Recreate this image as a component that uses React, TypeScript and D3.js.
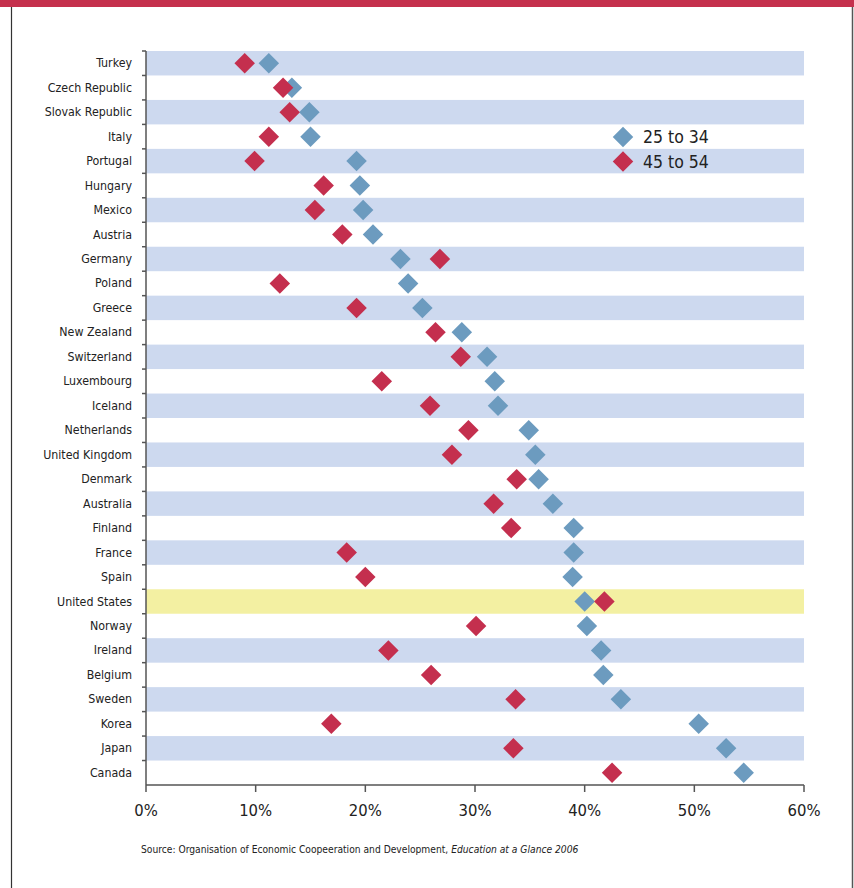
import React from "react";
import * as d3 from "d3";

const countries = [
  "Turkey", "Czech Republic", "Slovak Republic", "Italy", "Portugal", "Hungary",
  "Mexico", "Austria", "Germany", "Poland", "Greece", "New Zealand", "Switzerland",
  "Luxembourg", "Iceland", "Netherlands", "United Kingdom", "Denmark", "Australia",
  "Finland", "France", "Spain", "United States", "Norway", "Ireland", "Belgium",
  "Sweden", "Korea", "Japan", "Canada",
];
const age25to34 = [
  11.2, 13.3, 14.9, 15.0, 19.2, 19.5, 19.8, 20.7, 23.2, 23.9, 25.2, 28.8, 31.1,
  31.8, 32.1, 34.9, 35.5, 35.8, 37.1, 39.0, 39.0, 38.9, 40.0, 40.2, 41.5, 41.7,
  43.3, 50.4, 52.9, 54.5,
];
const age45to54 = [
  9.0, 12.5, 13.1, 11.2, 9.9, 16.2, 15.4, 17.9, 26.8, 12.2, 19.2, 26.4, 28.7,
  21.5, 25.9, 29.4, 27.9, 33.8, 31.7, 33.3, 18.3, 20.0, 41.8, 30.1, 22.1, 26.0,
  33.7, 16.9, 33.5, 42.5,
];
const seriesNames = ["25 to 34", "45 to 54"];
const xTicks = [0, 10, 20, 30, 40, 50, 60];
const highlight = "United States";

const W = 854;
const H = 888;
const M = { left: 146, right: 804, top: 51, bottom: 785 };
const BLUE = "#6c9bbf";
const RED = "#c42f4e";
const BAND = "#cdd9ef";
const YELLOW = "#f3f0a2";
const AXIS = "#555555";
const FONT = "'Liberation Sans Narrow', 'Arial Narrow', 'DejaVu Sans Condensed', 'Roboto', sans-serif";

export default function App() {
  const x = d3.scaleLinear().domain([0, 60]).range([M.left, M.right]);
  const y = d3.scaleBand<string>().domain(countries).range([M.top, M.bottom]).padding(0);
  const bw = y.bandwidth();
  const diamond = d3.symbol().type(d3.symbolSquare).size(14.5 * 14.5)();

  const series = [
    { name: seriesNames[0], values: age25to34, color: BLUE },
    { name: seriesNames[1], values: age45to54, color: RED },
  ];

  return (
    <svg width={W} height={H} style={{ display: "block", position: "absolute", left: 0, top: 0 }}>
      <rect x={0} y={0} width={W} height={H} fill="#fff" />
      <rect x={0} y={0} width={W} height={7} fill="#c5304d" />
      <line x1={11.5} x2={11.5} y1={7} y2={H} stroke="#333" strokeWidth={1.2} />
      <line x1={852.5} x2={852.5} y1={7} y2={H} stroke="#555" strokeWidth={1.5} />

      {countries.map((c, i) => {
        const fill = c === highlight ? YELLOW : i % 2 === 0 ? BAND : "none";
        return fill === "none" ? null : (
          <rect key={c} x={M.left} y={y(c)} width={M.right - M.left} height={bw} fill={fill} />
        );
      })}

      {/* y axis */}
      <line x1={M.left} x2={M.left} y1={M.top} y2={M.bottom} stroke={AXIS} strokeWidth={1.5} />
      {countries.map((c) => (
        <line key={"t" + c} x1={M.left - 4} x2={M.left} y1={y(c)!} y2={y(c)!} stroke={AXIS} strokeWidth={1.5} />
      ))}
      {countries.map((c) => (
        <text key={"l" + c} x={132} y={y(c)! + bw / 2} textAnchor="end" dominantBaseline="central"
          fontFamily={FONT} fontSize={12.3} fill="#222">{c}</text>
      ))}

      {/* x axis */}
      <line x1={M.left} x2={M.right} y1={M.bottom} y2={M.bottom} stroke={AXIS} strokeWidth={1.5} />
      {xTicks.map((t) => (
        <g key={"x" + t}>
          <line x1={x(t)} x2={x(t)} y1={M.bottom} y2={M.bottom + 7} stroke={AXIS} strokeWidth={1.5} />
          <text x={x(t)} y={816} textAnchor="middle" fontFamily={FONT} fontSize={16.5} fill="#222">{t}%</text>
        </g>
      ))}

      {/* markers */}
      {series.map((s) =>
        s.values.map((v, i) => (
          <path key={s.name + i} d={diamond!}
            transform={`translate(${x(v)},${y(countries[i])! + bw / 2}) rotate(45)`}
            fill={s.color} />
        ))
      )}

      {/* legend */}
      {series.map((s, i) => (
        <g key={"lg" + s.name} transform={`translate(623,${137 + i * 24.5})`}>
          <path d={diamond!} transform="rotate(45)" fill={s.color} />
          <text x={20} y={0} dominantBaseline="central" fontFamily={FONT} fontSize={17.5} fill="#222">{s.name}</text>
        </g>
      ))}

      <text x={141} y={853} fontFamily={FONT} fontSize={10.2} fill="#222">
        Source: Organisation of Economic Coopeeration and Development,{" "}
        <tspan fontStyle="italic">Education at a Glance 2006</tspan>
      </text>
    </svg>
  );
}
